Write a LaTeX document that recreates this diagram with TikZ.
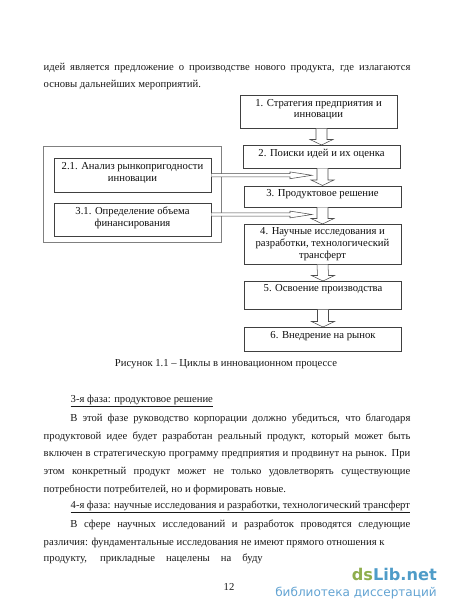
\documentclass[tikz,border=0pt]{standalone}
\usepackage{fontspec}
\setmainfont{Liberation Serif}
\setsansfont{DejaVu Sans}
\usepackage{tikz}
\usetikzlibrary{arrows.meta,positioning,calc}
\definecolor{markgreen}{HTML}{8FAE4E}
\definecolor{markblue}{HTML}{4F9CC8}
\definecolor{subblue}{HTML}{62A3D2}
\newcommand{\bodyfont}{\fontsize{9.1pt}{15.1pt}\selectfont}
\newcommand{\boxfont}{\fontsize{9.1pt}{10.1pt}\selectfont}

\begin{document}
\begin{tikzpicture}[
  x=0.03cm, y=-0.03cm,
  box/.style={rectangle, draw=black!75, line width=0.5pt, minimum width=4.71cm, inner ysep=0pt, align=center, anchor=north, font=\boxfont, text=black!95},
  outerbox/.style={rectangle, draw=black!50, line width=0.5pt, minimum width=5.34cm, minimum height=2.88cm, anchor=north west, inner sep=0pt},
  para/.style={anchor=north west, inner sep=0pt, text width=11cm, align=justify, font=\bodyfont, text=black!90},
  plain/.style={anchor=base west, inner sep=0pt, font=\bodyfont, text=black!90},
  downarr/.style={draw=black!70, line width=0.45pt, fill=white, to path={
    ($(\tikztostart)+(-5.5,0)$) -- ($(\tikztotarget)+(-5.5,-5.5)$) -- ($(\tikztotarget)+(-11.5,-5.5)$) -- (\tikztotarget)
    -- ($(\tikztotarget)+(11.5,-5.5)$) -- ($(\tikztotarget)+(5.5,-5.5)$) -- ($(\tikztostart)+(5.5,0)$)}},
  sidearr/.style={draw=black!70, line width=0.45pt, fill=white, to path={
    ($(\tikztostart)+(0,-1.6)$) -- ($(\tikztotarget)+(-22,-1.6)$) -- ($(\tikztotarget)+(-22,-3.4)$) -- (\tikztotarget)
    -- ($(\tikztotarget)+(-22,3.4)$) -- ($(\tikztotarget)+(-22,1.6)$) -- ($(\tikztostart)+(0,1.6)$)}}
]
\useasboundingbox (0,0) rectangle (450,612);

% Top text
\node[para] (intro) at (43.5,62.5) {идей является предложение о производстве нового продукта, где излагаются\linebreak основы дальнейших мероприятий.};

% Left group
\node[outerbox] (outer) at (43,146) {};
\node[box, text height=0.69cm, text depth=0.33cm] (analysis) at (132.5,158) {2.1. Анализ рынкопригодности\\инновации};
\node[box, text height=0.69cm, text depth=0.30cm] (funding) at (132.5,203) {3.1. Определение объема\\финансирования};

% Right chain
\node[box, text height=0.68cm, text depth=0.31cm] (strategy) at (318.5,95) {1. Стратегия предприятия и\\инновации};
\node[box, text height=0.34cm, text depth=0.34cm] (search) at (321.5,145) {2. Поиски идей и их оценка};
\node[box, text height=0.32cm, text depth=0.32cm] (product) at (322.5,185.5) {3. Продуктовое решение};
\node[box, text height=1.03cm, text depth=0.17cm] (research) at (322.5,224) {4. Научные исследования и\\разработки, технологический\\трансферт};
\node[box, text height=0.30cm, text depth=0.54cm] (launch) at (323,281) {5. Освоение производства};
\node[box, text height=0.33cm, text depth=0.39cm] (market) at (323,327) {6. Внедрение на рынок};

% Block arrows between the steps
\draw[downarr] (strategy.south -| search.north) to (search.north);
\draw[downarr] (search.south -| product.north) to (product.north);
\draw[downarr] (product.south) to (research.north);
\draw[downarr] (research.south) to (launch.north);
\draw[downarr] (launch.south) to (market.north);

% Side arrows
\coordinate (tip1) at (312,175.3);
\coordinate (tip2) at (312,214.5);
\draw[sidearr] (analysis.east |- tip1) to (tip1);
\draw[sidearr] (funding.east |- tip2) to (tip2);

% Caption
\node[anchor=base, inner sep=0pt, font=\bodyfont, text=black!90] (caption) at (226,366) {Рисунок 1.1 -- Циклы в инновационном процессе};

% Body text
\node[plain] (phase3) at (70.5,402) {\underline{3-я фаза: продуктовое решение}};
\node[para] (para3) at (43.5,413.5) {\hspace*{0.8cm}В этой фазе руководство корпорации должно убедиться, что благодаря\linebreak продуктовой идее будет разработан реальный продукт, который может быть\linebreak включен в стратегическую программу предприятия и продвинут на рынок. При\linebreak этом конкретный продукт может не только удовлетворять существующие\linebreak потребности потребителей, но и формировать новые.};
\node[plain] (phase4) at (70.5,508.3) {\underline{\hbox to 10.18cm{4-я фаза: научные исследования и разработки, технологический трансферт}}};
\node[para] (para4) at (43.5,520) {\hspace*{0.8cm}В сфере научных исследований и разработок проводятся следующие\linebreak различия: фундаментальные исследования не имеют прямого отношения к};
\node[plain] (cut) at (43.5,561.6) {\hbox to 6.57cm{продукту, прикладные нацелены на буду}};
\node[plain] (page) at (223.5,590.5) {12};

% Site mark
\node[anchor=base east, inner sep=0pt, font=\sffamily\fontsize{13.8pt}{14pt}\selectfont\bfseries] (mark) at (437,580) {\textcolor{markgreen}{ds}\textcolor{markblue}{Lib.net}};
\node[anchor=base east, inner sep=0pt, font=\sffamily\fontsize{10.3pt}{11pt}\selectfont, text=subblue] (marksub) at (437,596.5) {библиотека диссертаций};
\end{tikzpicture}
\end{document}
